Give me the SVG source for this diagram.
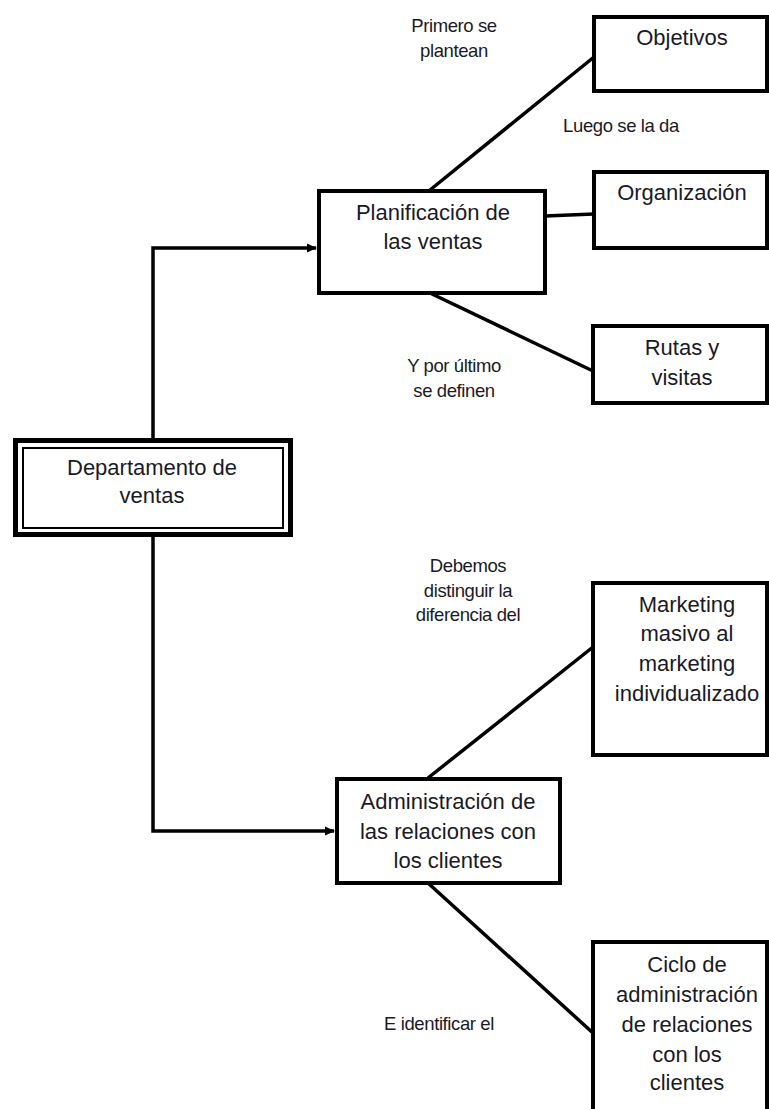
<svg xmlns="http://www.w3.org/2000/svg" width="769" height="1109" viewBox="0 0 769 1109">
<style>
.box{fill:#fff;stroke:#000;stroke-width:4}
.ln{fill:none;stroke:#000;stroke-width:3.5}
.t{font-family:"Liberation Sans",Arial,sans-serif;font-size:22px;fill:#1a1a26;text-anchor:middle}
.s{font-family:"Liberation Sans",Arial,sans-serif;font-size:18.5px;fill:#1a1a26;text-anchor:middle;letter-spacing:-0.4px}
</style>
<defs>
<marker id="ah" markerWidth="10" markerHeight="10" refX="9" refY="5" orient="auto" markerUnits="userSpaceOnUse">
<path d="M0,0.5 L10,5 L0,9.5 Z" fill="#000"/>
</marker>
</defs>
<g id="connectors">
<path class="ln" d="M153,438 V248 H316" marker-end="url(#ah)"/>
<path class="ln" d="M153,537 V831 H334" marker-end="url(#ah)"/>
<line class="ln" x1="430" y1="190" x2="594" y2="57"/>
<line class="ln" x1="545" y1="216" x2="594" y2="214"/>
<line class="ln" x1="430" y1="293" x2="593" y2="371"/>
<line class="ln" x1="428" y1="778" x2="593" y2="647"/>
<line class="ln" x1="428" y1="883" x2="593" y2="1033"/>
</g>
<g id="labels">
<text class="s" x="454" y="32">Primero se</text>
<text class="s" x="454" y="57">plantean</text>
<text class="s" x="621" y="132">Luego se la da</text>
<text class="s" x="454" y="372">Y por último</text>
<text class="s" x="454" y="397">se definen</text>
<text class="s" x="468" y="572">Debemos</text>
<text class="s" x="468" y="597">distinguir la</text>
<text class="s" x="468" y="621">diferencia del</text>
<text class="s" x="439" y="1030">E identificar el</text>
</g>
<g id="departamento">
<rect x="15.5" y="440.5" width="275" height="94" fill="#fff" stroke="#000" stroke-width="5"/>
<rect x="23" y="448" width="260" height="80" fill="none" stroke="#000" stroke-width="2"/>
<text class="t" x="152" y="475">Departamento de</text>
<text class="t" x="152" y="503">ventas</text>
</g>
<g id="planificacion">
<rect class="box" x="319" y="191" width="226" height="102"/>
<text class="t" x="433" y="220">Planificación de</text>
<text class="t" x="433" y="249">las ventas</text>
</g>
<g id="objetivos">
<rect class="box" x="594" y="17" width="173" height="74"/>
<text class="t" x="682" y="45">Objetivos</text>
</g>
<g id="organizacion">
<rect class="box" x="594" y="172" width="173" height="76"/>
<text class="t" x="682" y="200">Organización</text>
</g>
<g id="rutas">
<rect class="box" x="593" y="326" width="174" height="77"/>
<text class="t" x="682" y="355">Rutas y</text>
<text class="t" x="682" y="385">visitas</text>
</g>
<g id="marketing">
<rect class="box" x="593" y="583" width="174" height="172"/>
<text class="t" x="687" y="612">Marketing</text>
<text class="t" x="687" y="641">masivo al</text>
<text class="t" x="687" y="671">marketing</text>
<text class="t" x="687" y="701">individualizado</text>
</g>
<g id="administracion">
<rect class="box" x="337" y="779" width="223" height="104"/>
<text class="t" x="448" y="809">Administración de</text>
<text class="t" x="448" y="839">las relaciones con</text>
<text class="t" x="448" y="868">los clientes</text>
</g>
<g id="ciclo">
<rect class="box" x="593" y="942" width="174" height="180"/>
<text class="t" x="687" y="972">Ciclo de</text>
<text class="t" x="687" y="1002">administración</text>
<text class="t" x="687" y="1032">de relaciones</text>
<text class="t" x="687" y="1062">con los</text>
<text class="t" x="687" y="1090">clientes</text>
</g>
</svg>
